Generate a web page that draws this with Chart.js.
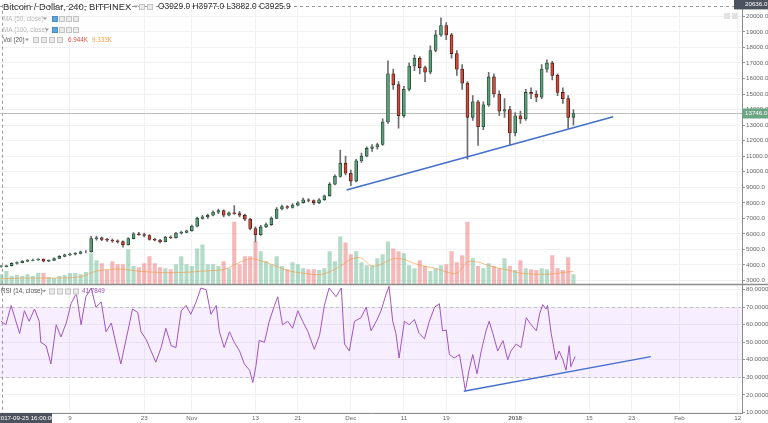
<!DOCTYPE html>
<html>
<head>
<meta charset="utf-8">
<title>Bitcoin / Dollar, 240, BITFINEX</title>
<script src="https://cdn.jsdelivr.net/npm/chart.js@4.4.1/dist/chart.umd.min.js"></script>
<style>
  html, body { margin: 0; padding: 0; background: #fff; }
  canvas { display: block; }
</style>
</head>
<body>
<canvas id="btcChart" width="768" height="423"></canvas>
<script>
// one candle per day, day 0 = 2017-09-26
const opens = [
  3880, 3900, 3950, 4100, 4150, 4250, 4300, 4320, 4380, 4250,
  4300, 4420, 4550, 4650, 4700, 4750, 4850, 4850, 5700, 5750,
  5650, 5600, 5550, 5500, 5300, 5700, 6000, 5950, 5900, 5650,
  5600, 5500, 5800, 5750, 6050, 6100, 6200, 6500, 7000, 7100,
  7200, 7400, 7500, 7200, 7350, 7300, 7200, 6950, 6350, 5950,
  6450, 6600, 7000, 7600, 7750, 7700, 7850, 8000, 8200, 8150,
  8000, 8200, 8450, 9200, 9700, 10550, 9900, 9400, 10700, 11000,
  11500, 11600, 11750, 13200, 16300, 15600, 13600, 15300, 16800, 17300,
  16700, 16400, 17800, 18800, 19400, 18800, 17600, 16600, 15700, 13500,
  14500, 12900, 14300, 16100, 15000, 13900, 14000, 12500, 13600, 13400,
  15100, 15000, 14800, 16600, 17000, 16200, 15100, 14700, 13500
];
const highs = [
  3980, 3990, 4150, 4200, 4290, 4350, 4380, 4420, 4400, 4340,
  4460, 4600, 4700, 4760, 4800, 4890, 4920, 5850, 5860, 5800,
  5720, 5680, 5620, 5560, 5760, 6080, 6100, 6050, 5950, 5720,
  5650, 5850, 5880, 6100, 6180, 6250, 6560, 7080, 7200, 7280,
  7480, 7600, 7550, 7420, 7830, 7450, 7280, 7000, 6450, 6550,
  6700, 7100, 7700, 7850, 7820, 7950, 8080, 8300, 8280, 8200,
  8280, 8500, 9300, 9800, 11400, 11000, 10100, 10800, 11200, 11600,
  11750, 11850, 13400, 17140, 16600, 15800, 15500, 17000, 17500, 17400,
  16800, 18100, 19100, 19900, 19600, 18900, 17800, 16900, 15800, 14900,
  14600, 14500, 16400, 16300, 15200, 14700, 14200, 13800, 13900, 15300,
  15400, 15200, 16900, 17200, 17100, 16300, 15400, 14900, 14000
];
const lows = [
  3860, 3870, 3930, 4060, 4130, 4220, 4260, 4290, 4200, 4210,
  4280, 4400, 4520, 4600, 4650, 4720, 4780, 4830, 5600, 5560,
  5520, 5450, 5400, 5150, 5280, 5680, 5900, 5800, 5600, 5550,
  5420, 5480, 5700, 5720, 6000, 6060, 6180, 6450, 6950, 7000,
  7150, 7300, 7100, 7150, 7250, 7100, 6850, 6250, 5480, 5900,
  6400, 6550, 6980, 7550, 7600, 7650, 7800, 7980, 8050, 7880,
  7950, 8150, 8420, 9150, 9650, 9800, 9100, 9350, 10600, 10950,
  11300, 11450, 11700, 13100, 15300, 12800, 13500, 15200, 16500, 16300,
  15800, 16300, 17700, 18700, 18500, 17300, 16200, 15300, 10800, 13300,
  11700, 12700, 14200, 14800, 13600, 13500, 11700, 12300, 13100, 13300,
  14700, 14500, 14700, 16400, 15900, 14900, 14400, 12800, 13000
];
const closes = [
  3900, 3950, 4100, 4150, 4250, 4300, 4320, 4380, 4250, 4300,
  4420, 4550, 4650, 4700, 4750, 4850, 4850, 5700, 5750, 5650,
  5600, 5550, 5500, 5300, 5700, 6000, 5950, 5900, 5650, 5600,
  5500, 5800, 5750, 6050, 6100, 6200, 6500, 7000, 7100, 7200,
  7400, 7500, 7200, 7350, 7300, 7200, 6950, 6350, 5950, 6450,
  6600, 7000, 7600, 7750, 7700, 7850, 8000, 8200, 8150, 8000,
  8200, 8450, 9200, 9700, 10550, 9900, 9400, 10700, 11000, 11500,
  11600, 11750, 13200, 16300, 15600, 13600, 15300, 16800, 17300, 16700,
  16400, 17800, 18800, 19400, 18800, 17600, 16600, 15700, 13500, 14500,
  12900, 14300, 16100, 15000, 13900, 14000, 12500, 13600, 13400, 15100,
  15000, 14800, 16600, 17000, 16200, 15100, 14700, 13500, 13746
];
// volume in thousands
const volumes = [
  7.1, 9.3, 5.7, 6.4, 5.7, 7.1, 5.7, 7.9, 7.9, 5.0,
  4.3, 5.7, 6.4, 7.9, 7.9, 7.1, 8.6, 22.1, 17.1, 15.0,
  10.0, 16.4, 14.3, 14.3, 25.0, 12.9, 12.1, 15.0, 20.0, 15.0,
  12.1, 11.4, 10.7, 14.3, 20.0, 14.3, 12.9, 25.7, 28.6, 14.3,
  14.3, 12.9, 16.4, 11.4, 45.0, 14.3, 20.0, 20.0, 30.7, 23.6,
  16.4, 14.3, 20.0, 12.9, 10.7, 15.7, 14.3, 11.4, 10.7, 10.7,
  10.0, 11.4, 23.6, 16.4, 34.3, 30.0, 21.4, 23.6, 15.7, 13.6,
  13.6, 18.6, 21.4, 30.7, 25.7, 23.6, 22.1, 13.6, 11.4, 17.1,
  12.9, 9.3, 11.4, 13.6, 14.3, 23.6, 15.7, 20.7, 45.0, 18.6,
  12.9, 11.4, 15.0, 12.9, 11.4, 18.6, 12.9, 10.0, 17.1, 11.4,
  10.7, 10.0, 11.4, 10.7, 20.7, 11.4, 10.0, 19.3, 6.944
];
const volMaDays = [0, 5, 10, 15, 18, 22, 26, 30, 34, 38, 42, 44, 47, 49, 51, 54, 57, 60, 62, 64,
  66, 68, 70, 72, 74, 76, 78, 80, 82, 84, 86, 88, 90, 92, 94, 96, 98, 100, 102, 104, 106, 108];
const volMaValues = [4.0, 4.5, 4.5, 5.5, 9.5, 11, 9.5, 8.5, 8.5, 9.5, 10.7, 14, 18.5, 17, 14.5, 10, 8, 7, 9, 13,
  18, 19, 13, 15, 18.5, 18, 15, 13, 11.5, 9, 8, 16, 16, 13.5, 11.5, 10, 8, 7.5, 7.2, 7.5, 8.5, 9.333];
const rsiDays = [
  0, 0.9, 1.9, 2.8, 3.5, 4.4, 5.3, 6.3, 7.2, 7.5,
  8.5, 9.4, 10.4, 11.3, 12.3, 13.2, 14.2, 15.1, 16, 17,
  17.9, 18.9, 19.8, 20.8, 21.7, 22.6, 23.9, 24.8, 25.8, 26.4,
  27.4, 28.3, 29.2, 30.2, 31.1, 32.1, 33, 34, 34.9, 35.8,
  36.8, 37.7, 38.7, 39.6, 40.6, 41.2, 42.1, 43.1, 44, 45,
  45.9, 46.9, 47.5, 48.1, 48.7, 49.7, 50.6, 51.6, 52.2, 53.1,
  54.1, 55, 56, 56.9, 57.9, 59.1, 60.1, 61, 61.9, 63.2,
  64.2, 64.8, 65.7, 66.7, 67.9, 68.9, 69.8, 70.8, 71.7, 72.6,
  73.2, 73.9, 74.5, 75.1, 76.1, 77, 78, 78.9, 79.9, 80.8,
  81.8, 82.7, 83.3, 84, 84.6, 85.5, 86.5, 87.1, 87.6, 88.3,
  89, 89.8, 90.6, 91.5, 92.1, 92.8, 93.7, 94.7, 95.6, 96.2,
  97.2, 98.1, 99.1, 100, 101, 101.6, 102.2, 102.8, 103.1, 103.8,
  104.7, 105.3, 106, 106.6, 107.2, 107.5, 108.3
];
const rsiValues = [
  62, 60, 71, 62, 55, 68, 62, 69, 62, 50,
  48, 37.6, 60, 53, 61, 72, 78, 60, 76, 81,
  70, 73, 56, 61, 49, 37.6, 56, 69, 67, 56,
  51.5, 45, 38.6, 47, 58, 48, 47, 68, 71, 66,
  73, 81, 80, 66, 71, 56, 47, 56, 50, 45,
  37.6, 34, 27, 36.7, 51, 50, 62, 71, 76, 60,
  62, 58, 68, 62, 56, 46, 54, 71, 81, 76,
  81, 49, 45, 62, 64, 70, 56.5, 62, 68, 77,
  82, 62, 55, 41, 62, 60, 63, 55, 52, 62,
  70, 72, 56.5, 57, 43, 41, 43, 32, 22.5, 34,
  43, 32, 45, 56.5, 62, 55, 45, 51, 40, 45,
  49, 47, 64, 60, 56.5, 66, 71.5, 69, 71, 55,
  40, 45, 40, 34, 48, 36, 41.7849
];
const priceTrendDays = [65.2, 115.5];
const priceTrendValues = [8830, 13540];
const rsiTrendDays = [87.3, 122.6];
const rsiTrendValues = [22.0, 41.8];
const tickDays = [13, 27, 36, 48, 56, 66, 76, 84, 97, 111, 119, 128, 139];
const tickLabels = ['9', '23', 'Nov', '13', '21', 'Dec', '11', '19', '2018', '15', '23', 'Feb', '12'];
const priceTicks = [3000, 4000, 5000, 6000, 7000, 8000, 9000, 10000, 11000, 12000,
  13000, 14000, 15000, 16000, 17000, 18000, 19000, 20000];
const rsiTicks = [10, 20, 30, 40, 50, 60, 70, 80];
const rsiBand = [30, 70];
const hoverOHLC = ['3929.0', '3977.0', '3882.0', '3925.9'];
const hoverDate = '2017-09-25 16:00:00';
const hoverDay = 0.12;
const hoverPrice = 20636.0;

const days = closes.map((_, i) => i);
const isUp = days.map(i => closes[i] >= opens[i]);
const lastClose = closes[closes.length - 1];
const lastVolume = volumes[volumes.length - 1];
const lastVolMa = volMaValues[volMaValues.length - 1];
const lastRsi = rsiValues[rsiValues.length - 1];

const FONT = "'Liberation Sans', Arial, sans-serif";
Chart.defaults.font.family = FONT;

function drawIcons(ctx, xs, y, firstBlue) {
  xs.forEach((x, i) => {
    ctx.fillStyle = (firstBlue && i === 0) ? '#5fa3dc' : '#eaeaea';
    ctx.fillRect(x, y - 3, 6, 6);
    ctx.strokeStyle = (firstBlue && i === 0) ? '#4a8cc4' : '#c4c4c4';
    ctx.lineWidth = 1;
    ctx.strokeRect(x + 0.5, y - 2.5, 5, 5);
  });
}
function drawCaret(ctx, x, y) {
  ctx.fillStyle = '#999';
  ctx.beginPath();
  ctx.moveTo(x, y - 1.5);
  ctx.lineTo(x + 4, y - 1.5);
  ctx.lineTo(x + 2, y + 1);
  ctx.closePath();
  ctx.fill();
}

const panes = {
  id: 'panes',
  beforeDatasetsDraw(chart) {
    const {ctx, chartArea: a, scales} = chart;
    const yr = scales.yr, y = scales.y, x = scales.x;
    ctx.save();
    // RSI band
    const t = yr.getPixelForValue(rsiBand[1]), b = yr.getPixelForValue(rsiBand[0]);
    ctx.fillStyle = 'rgba(153, 21, 255, 0.075)';
    ctx.fillRect(a.left, t, a.right - a.left, b - t);
    ctx.setLineDash([3, 3]);
    ctx.strokeStyle = '#c2c2c2';
    ctx.lineWidth = 1;
    [t, b].forEach(py => {
      ctx.beginPath();
      ctx.moveTo(a.left, Math.round(py) + 0.5);
      ctx.lineTo(a.right, Math.round(py) + 0.5);
      ctx.stroke();
    });
    // crosshair
    ctx.strokeStyle = '#9a9a9a';
    const hy = Math.round(y.getPixelForValue(hoverPrice)) + 0.5;
    ctx.beginPath(); ctx.moveTo(a.left, hy); ctx.lineTo(a.right, hy); ctx.stroke();
    const hx = Math.round(x.getPixelForValue(hoverDay)) + 0.5;
    ctx.beginPath(); ctx.moveTo(hx, a.top); ctx.lineTo(hx, a.bottom); ctx.stroke();
    ctx.setLineDash([]);
    // last price line
    const ly = Math.round(y.getPixelForValue(lastClose)) + 0.5;
    ctx.strokeStyle = '#bdbdbd';
    ctx.beginPath(); ctx.moveTo(a.left, ly); ctx.lineTo(a.right, ly); ctx.stroke();
    ctx.restore();
  },
  afterDraw(chart) {
    const {ctx, chartArea: a, scales} = chart;
    const y = scales.y;
    ctx.save();
    // pane separator
    ctx.strokeStyle = '#8c8c8c';
    ctx.lineWidth = 1.5;
    ctx.beginPath();
    ctx.moveTo(0, y.bottom);
    ctx.lineTo(chart.width, y.bottom);
    ctx.stroke();

    ctx.textBaseline = 'middle';
    // last price label
    const ly = y.getPixelForValue(lastClose);
    ctx.fillStyle = '#6ba583';
    ctx.fillRect(a.right, ly - 5, chart.width - a.right, 10);
    ctx.fillStyle = '#fff';
    ctx.font = '6.2px ' + FONT;
    ctx.textAlign = 'left';
    ctx.fillText(lastClose.toFixed(1), a.right + 3, ly);
    // crosshair price label, cut by the top edge
    const hy = y.getPixelForValue(hoverPrice) - 2;
    ctx.fillStyle = '#4c525e';
    ctx.fillRect(a.right - 8, hy - 5, chart.width - a.right + 8, 10);
    ctx.fillStyle = '#fff';
    ctx.fillText(hoverPrice.toFixed(1), a.right + 3, hy);
    // crosshair date label
    ctx.fillStyle = '#4c525e';
    ctx.fillRect(0, a.bottom, 52, chart.height - a.bottom);
    ctx.fillStyle = '#fff';
    ctx.textAlign = 'center';
    ctx.fillText(hoverDate, 26, (a.bottom + chart.height) / 2);
    // small chart buttons top right
    ctx.fillStyle = '#e2e2e2';
    ctx.fillRect(724, 13, 6, 6);
    ctx.fillRect(732, 13, 6, 6);

    // legend lines
    ctx.textAlign = 'left';
    ctx.fillStyle = '#333';
    ctx.font = '9.4px ' + FONT;
    ctx.fillText('Bitcoin / Dollar, 240, BITFINEX', 3, 7);
    drawCaret(ctx, 134, 7);
    drawIcons(ctx, [139, 147], 7, false);
    ctx.fillStyle = '#333';
    ctx.font = '8.4px ' + FONT;
    ctx.fillText('O' + hoverOHLC[0] + ' H' + hoverOHLC[1] + ' L' + hoverOHLC[2] + ' C' + hoverOHLC[3], 158, 7);

    ctx.font = '6.3px ' + FONT;
    ctx.fillStyle = '#b8b8b8';
    ctx.fillText('MA (50, close)', 3, 19);
    drawCaret(ctx, 43, 19);
    drawIcons(ctx, [52, 59, 66, 73], 19, true);
    ctx.fillStyle = '#b8b8b8';
    ctx.fillText('MA (100, close)', 3, 30);
    drawCaret(ctx, 45, 30);
    drawIcons(ctx, [52, 59, 66, 73], 30, true);
    ctx.fillStyle = '#555';
    ctx.fillText('Vol (20)', 3, 40);
    drawCaret(ctx, 25, 40);
    drawIcons(ctx, [33, 41, 49, 57], 40, false);
    ctx.fillStyle = '#d75442';
    ctx.fillText(lastVolume.toFixed(3) + 'K', 68, 40);
    ctx.fillStyle = '#f0a04a';
    ctx.fillText(lastVolMa.toFixed(3) + 'K', 92, 40);

    const ry = scales.yr.top + 7;
    ctx.fillStyle = '#555';
    ctx.fillText('RSI (14, close)', 1, ry);
    drawCaret(ctx, 42, ry);
    drawIcons(ctx, [49, 57, 65, 73], ry, false);
    ctx.fillStyle = '#9c50b8';
    ctx.fillText(lastRsi.toFixed(4), 82, ry);
    ctx.restore();
  }
};

const gridColor = '#eff1f4';
const tickFont = {size: 6.2};

new Chart(document.getElementById('btcChart'), {
  type: 'line',
  data: {
    datasets: [
      {
        type: 'bar',
        label: 'Body',
        data: days.map(i => ({x: i, y: [opens[i], closes[i]]})),
        backgroundColor: days.map(i => isUp[i] ? '#5e9c78' : '#c94c3c'),
        borderColor: days.map(i => isUp[i] ? '#1f4a31' : '#4e1710'),
        borderWidth: 0.8,
        borderSkipped: false,
        barThickness: 3,
        grouped: false,
        yAxisID: 'y',
        order: 2
      },
      {
        type: 'bar',
        label: 'Wick',
        data: days.map(i => ({x: i, y: [lows[i], highs[i]]})),
        backgroundColor: '#6e6e70',
        borderWidth: 0,
        barThickness: 1,
        grouped: false,
        yAxisID: 'y',
        order: 3
      },
      {
        type: 'bar',
        label: 'Volume',
        data: days.map(i => ({x: i, y: volumes[i]})),
        backgroundColor: days.map(i => isUp[i] ? 'rgba(107, 185, 145, 0.5)' : 'rgba(235, 100, 100, 0.45)'),
        borderWidth: 0,
        barThickness: 3.5,
        grouped: false,
        yAxisID: 'yv',
        order: 6
      },
      {
        label: 'Vol MA',
        data: volMaDays.map((d, i) => ({x: d, y: volMaValues[i]})),
        borderColor: 'rgba(245, 150, 60, 0.6)',
        borderWidth: 1,
        pointRadius: 0,
        tension: 0.35,
        yAxisID: 'yv',
        order: 5
      },
      {
        label: 'Price trend',
        data: priceTrendDays.map((d, i) => ({x: d, y: priceTrendValues[i]})),
        borderColor: '#4470cc',
        borderWidth: 1.5,
        pointRadius: 0,
        yAxisID: 'y',
        order: 1
      },
      {
        label: 'RSI',
        data: rsiDays.map((d, i) => ({x: d, y: rsiValues[i]})),
        borderColor: '#a055c0',
        borderWidth: 1,
        pointRadius: 0,
        tension: 0,
        yAxisID: 'yr',
        order: 1
      },
      {
        label: 'RSI trend',
        data: rsiTrendDays.map((d, i) => ({x: d, y: rsiTrendValues[i]})),
        borderColor: '#4470cc',
        borderWidth: 1.5,
        pointRadius: 0,
        yAxisID: 'yr',
        order: 0
      }
    ]
  },
  options: {
    responsive: false,
    devicePixelRatio: 1,
    animation: false,
    layout: {padding: 0},
    plugins: {legend: {display: false}, tooltip: {enabled: false}},
    scales: {
      x: {
        type: 'linear',
        min: -0.2,
        max: 139.8,
        offset: false,
        grid: {color: gridColor, drawTicks: false, offset: false},
        border: {color: '#8c8c8c'},
        afterBuildTicks: s => { s.ticks = tickDays.map(v => ({value: v})); },
        afterFit: s => { s.height = 10; },
        ticks: {
          autoSkip: false,
          maxRotation: 0,
          padding: 2,
          color: '#666',
          font: c => ({size: 6.2, weight: c.tick && c.tick.value === 97 ? 'bold' : 'normal'}),
          callback: v => tickLabels[tickDays.indexOf(v)]
        }
      },
      y: {
        type: 'linear',
        position: 'right',
        stack: 'panes',
        stackWeight: 283,
        min: 2746,
        max: 20744,
        grid: {color: gridColor, tickLength: 3, tickColor: '#999'},
        border: {color: '#8c8c8c'},
        afterBuildTicks: s => { s.ticks = priceTicks.map(v => ({value: v})); },
        afterFit: s => { s.width = 26; },
        ticks: {autoSkip: false, padding: 1, color: '#666', font: tickFont,
          callback: v => v.toFixed(1)}
      },
      yr: {
        type: 'linear',
        position: 'right',
        stack: 'panes',
        stackWeight: 130,
        min: 9.6,
        max: 83,
        grid: {color: gridColor, tickLength: 3, tickColor: '#999'},
        border: {color: '#8c8c8c'},
        afterBuildTicks: s => { s.ticks = rsiTicks.map(v => ({value: v})); },
        afterFit: s => { s.width = 26; },
        ticks: {autoSkip: false, padding: 1, color: '#666', font: tickFont,
          callback: v => v.toFixed(4)}
      },
      yv: {
        type: 'linear',
        position: 'right',
        display: false,
        min: -93,
        max: 202
      }
    }
  },
  plugins: [panes]
});
</script>
</body>
</html>
